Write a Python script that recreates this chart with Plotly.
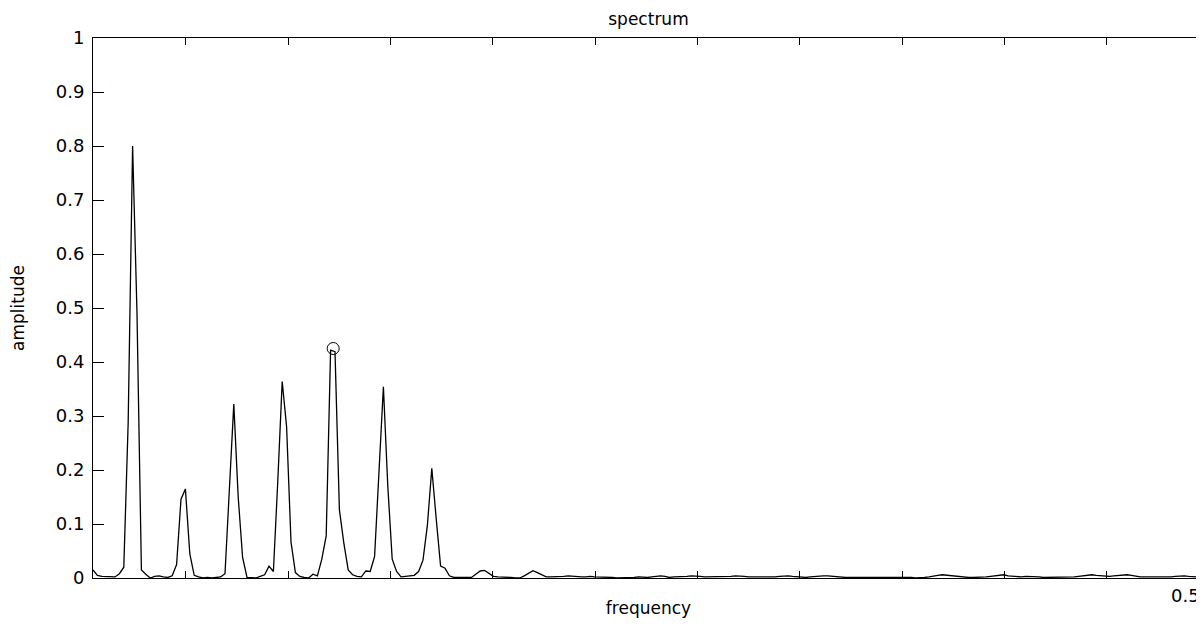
import numpy as np
import plotly.graph_objects as go

# ---- data ----
BIN_WIDTH = 1 / 505  # frequency step between spectrum bins

AMPLITUDE = [
    0.015, 0.005, 0.003, 0.003, 0.003, 0.002, 0.008, 0.020, 0.290, 0.800,
    0.490, 0.015, 0.007, 0.000, 0.003, 0.004, 0.002, 0.001, 0.004, 0.025,
    0.146, 0.165, 0.045, 0.005, 0.002, 0.000, 0.001, 0.000, 0.001, 0.002,
    0.008, 0.160, 0.322, 0.150, 0.038, 0.001, 0.001, 0.000, 0.003, 0.006,
    0.022, 0.012, 0.180, 0.364, 0.280, 0.067, 0.010, 0.003, 0.001, 0.000,
    0.007, 0.004, 0.035, 0.078, 0.422, 0.419, 0.126, 0.065, 0.015, 0.006,
    0.003, 0.002, 0.013, 0.012, 0.040, 0.190, 0.354, 0.170, 0.035, 0.012,
    0.002, 0.003, 0.004, 0.005, 0.012, 0.033, 0.098, 0.203, 0.110, 0.022,
    0.018, 0.004, 0.001, 0.001, 0.000, 0.000, 0.001, 0.007, 0.013, 0.014,
    0.008, 0.003, 0.002, 0.002, 0.001, 0.001, 0.000, 0.000, 0.004, 0.009,
    0.0135, 0.010, 0.006, 0.002, 0.002, 0.002, 0.002, 0.003, 0.004, 0.003,
    0.002,
    0.002, 0.002, 0.003, 0.002, 0.002, 0.001, 0.001, 0.001, 0.000, 0.000,
    0.001, 0.001, 0.001, 0.002, 0.001, 0.001, 0.002, 0.003, 0.004, 0.003,
    0.001, 0.002, 0.002, 0.003, 0.003, 0.004, 0.004, 0.003, 0.002, 0.002,
    0.002, 0.002, 0.003, 0.003, 0.003, 0.004, 0.004, 0.003, 0.002, 0.002,
    0.002, 0.002, 0.001, 0.002, 0.002, 0.003, 0.004, 0.004, 0.003, 0.002,
    0.002, 0.001, 0.002, 0.003, 0.003, 0.004, 0.004, 0.003, 0.003, 0.002,
    0.001, 0.001, 0.001, 0.001, 0.002, 0.002, 0.002, 0.002, 0.002, 0.002,
    0.002, 0.002, 0.002, 0.002, 0.001, 0.001, 0.000, 0.000, 0.001, 0.002,
    0.004, 0.005, 0.006, 0.005, 0.004, 0.003, 0.002, 0.002, 0.001, 0.001,
    0.001, 0.001, 0.002, 0.003, 0.004, 0.005, 0.006, 0.004, 0.003, 0.002,
    0.002, 0.003, 0.003, 0.002, 0.002, 0.001, 0.001, 0.001, 0.001, 0.001,
    0.002, 0.002, 0.002, 0.003, 0.004, 0.005, 0.006, 0.005, 0.004, 0.003,
    0.003, 0.004, 0.005, 0.006, 0.006, 0.005, 0.003, 0.002, 0.002, 0.002,
    0.001, 0.001, 0.001, 0.001, 0.002, 0.003, 0.004, 0.004, 0.003, 0.002,
    0.002, 0.002,
]

# interpolated peak marked with a circle
PEAK_FREQ = 0.1081
PEAK_AMP = 0.425

X_TICKS = [0.04185, 0.08789, 0.13393, 0.17997, 0.22601,
           0.27205, 0.31809, 0.36413, 0.41017, 0.45621]
X_LABEL_VALUE = "0.5"
Y_TICKS = [0, 0.1, 0.2, 0.3, 0.4, 0.5, 0.6, 0.7, 0.8, 0.9, 1]

freq = np.arange(len(AMPLITUDE)) * BIN_WIDTH

FONT = "DejaVu Sans, Liberation Sans, Arial, sans-serif"

fig = go.Figure()
fig.add_trace(go.Scatter(
    x=freq, y=AMPLITUDE, mode="lines",
    line=dict(color="black", width=1.3),
    showlegend=False, hoverinfo="skip",
))
fig.add_trace(go.Scatter(
    x=[PEAK_FREQ], y=[PEAK_AMP], mode="markers",
    marker=dict(symbol="circle-open", size=12, color="black",
                line=dict(color="black", width=1)),
    showlegend=False, hoverinfo="skip",
))

# page body has an 8px margin: figure occupies 8..1204 x 8..618
fig.update_layout(
    width=1196, height=610,
    margin=dict(l=85, r=0, t=30, b=40),
    paper_bgcolor="white", plot_bgcolor="white",
    font=dict(family=FONT, color="black"),
    title=dict(text="spectrum", x=0.5, xref="paper", xanchor="center",
               y=1 - 11 / 610, yref="container", yanchor="middle",
               font=dict(size=17, family=FONT, color="black")),
    xaxis=dict(
        range=[0, 0.5], showgrid=False, zeroline=False,
        showline=True, linecolor="black", linewidth=1, mirror="allticks",
        ticks="inside", ticklen=7, tickwidth=1, tickcolor="black",
        tickvals=X_TICKS, showticklabels=False,
        title=dict(text="frequency", standoff=24,
                   font=dict(size=17, family=FONT, color="black")),
    ),
    yaxis=dict(
        range=[0, 1], showgrid=False, zeroline=False,
        showline=True, linecolor="black", linewidth=1, mirror=False,
        ticks="inside", ticklen=11, tickwidth=1, tickcolor="black",
        tickvals=Y_TICKS, ticktext=[f"{v:g}" for v in Y_TICKS],
        tickfont=dict(size=18, family=FONT, color="black"),
        ticklabelstandoff=4,
        title=dict(text="amplitude", standoff=28,
                   font=dict(size=17, family=FONT, color="black")),
    ),
    annotations=[dict(
        text=X_LABEL_VALUE, x=(1202 - 93) / 2222, xref="x", xanchor="right",
        y=-17 / 540, yref="paper", yanchor="middle", showarrow=False,
        font=dict(size=18, family=FONT, color="black"),
    )],
)

fig.write_html("out.html")
